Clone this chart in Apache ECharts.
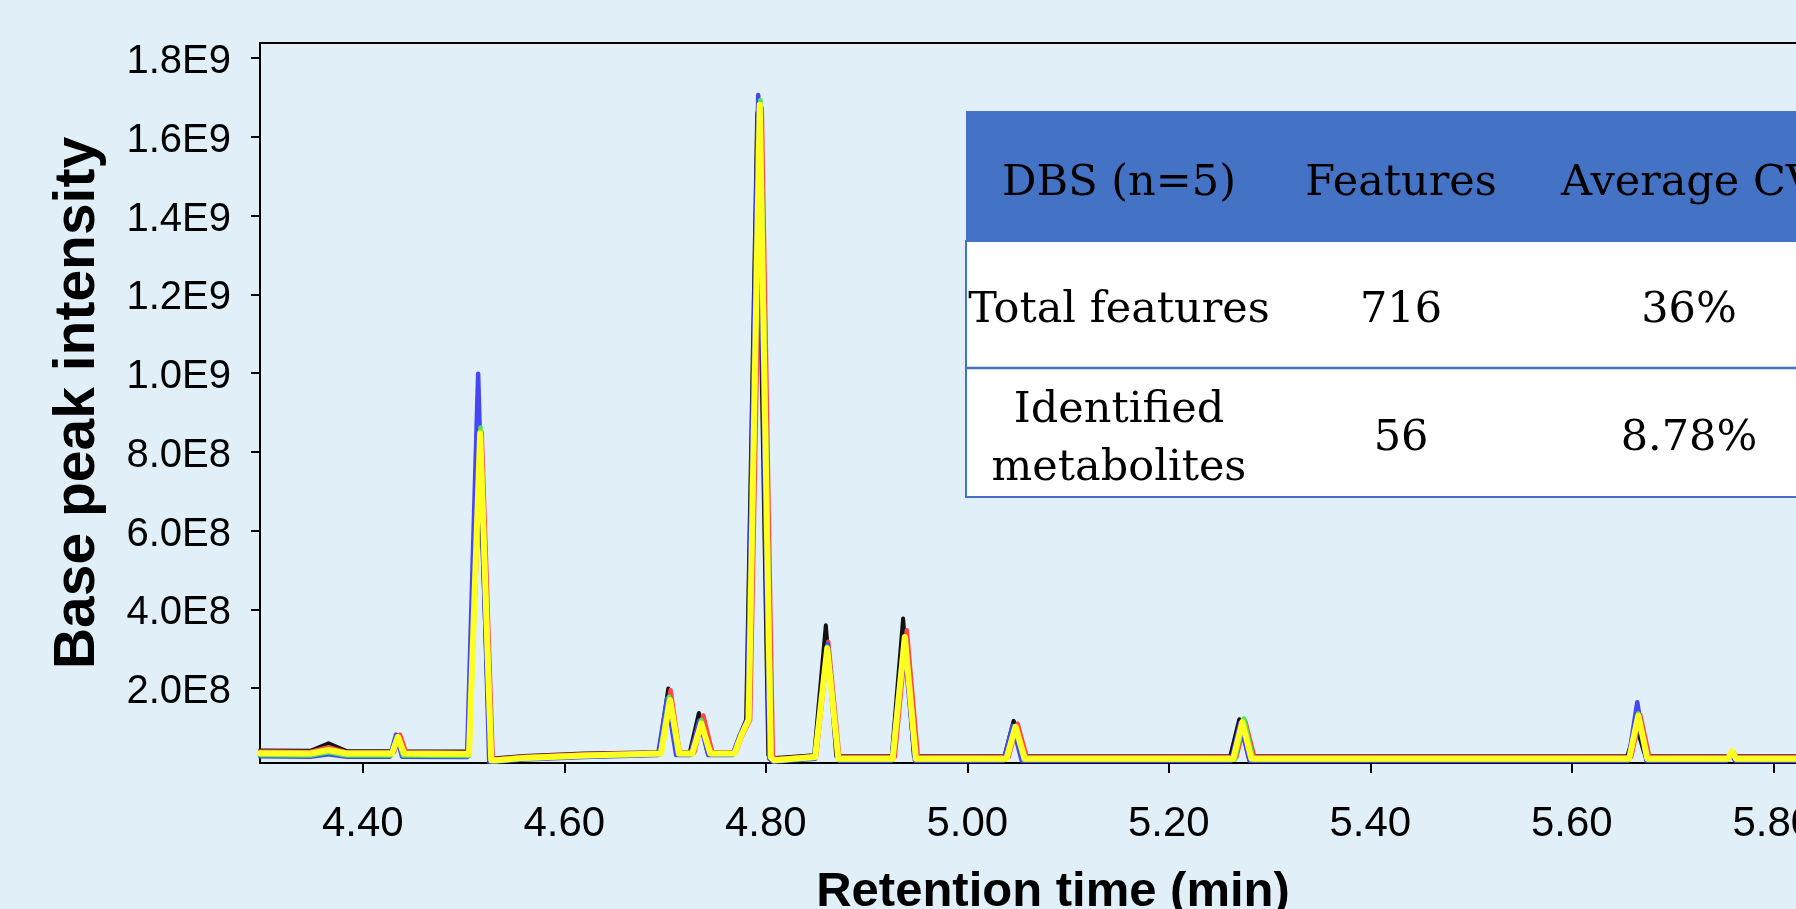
<!DOCTYPE html>
<html>
<head>
<meta charset="utf-8">
<script src="https://cdn.jsdelivr.net/npm/echarts@6/dist/echarts.min.js"></script>
<style>
  html, body { margin: 0; padding: 0; background: #e1f0f8; }
  #chart { width: 1796px; height: 909px; }
</style>
</head>
<body>
<div id="chart"></div>
<script>
// ---- Data (retention time in min, intensity in units of 1E8) ----
const xTickValues = [4.4, 4.6, 4.8, 5.0, 5.2, 5.4, 5.6, 5.8];
const xTickLabels = ['4.40', '4.60', '4.80', '5.00', '5.20', '5.40', '5.60', '5.80'];
const yTickValues = [2, 4, 6, 8, 10, 12, 14, 16, 18];
const yTickLabels = ['2.0E8', '4.0E8', '6.0E8', '8.0E8', '1.0E9', '1.2E9', '1.4E9', '1.6E9', '1.8E9'];

const seriesNames = ['Sample 1', 'Sample 2', 'Sample 3', 'Sample 4', 'Sample 5'];

const traceBlack = [[4.298,0.42],[4.348,0.41],[4.366,0.60],[4.384,0.40],[4.429,0.40],[4.435,0.76],[4.441,0.40],[4.504,0.39],[4.515,8.40],[4.526,0.22],[4.532,0.22],[4.56,0.28],[4.62,0.34],[4.694,0.375],[4.7032,1.99],[4.712,0.375],[4.7246,0.375],[4.7336,1.37],[4.742,0.375],[4.768,0.375],[4.775,0.85],[4.7805,1.2],[4.7915,16.6],[4.8025,0.30],[4.806,0.22],[4.848,0.30],[4.8596,3.60],[4.870,0.27],[4.925,0.27],[4.9363,3.77],[4.947,0.27],[5.037,0.27],[5.046,1.17],[5.055,0.27],[5.261,0.27],[5.270,1.21],[5.279,0.27],[5.655,0.27],[5.664,1.02],[5.673,0.27],[5.755,0.27],[5.759,0.36],[5.763,0.27],[5.83,0.27]];

const traceRed = [[4.298,0.39],[4.348,0.38],[4.366,0.50],[4.384,0.37],[4.431,0.37],[4.437,0.82],[4.443,0.37],[4.505,0.36],[4.518,8.50],[4.529,0.20],[4.534,0.20],[4.56,0.26],[4.62,0.32],[4.696,0.36],[4.7055,1.95],[4.7145,0.36],[4.729,0.36],[4.738,1.31],[4.747,0.36],[4.770,0.36],[4.777,0.82],[4.7845,1.2],[4.796,16.73],[4.807,0.28],[4.810,0.20],[4.850,0.28],[4.862,3.18],[4.873,0.25],[4.928,0.25],[4.940,3.47],[4.951,0.25],[5.041,0.25],[5.050,1.10],[5.059,0.25],[5.267,0.25],[5.276,1.15],[5.285,0.25],[5.659,0.25],[5.668,1.32],[5.677,0.25],[5.756,0.25],[5.760,0.38],[5.764,0.25],[5.83,0.25]];

const traceBlue = [[4.298,0.27],[4.348,0.26],[4.366,0.32],[4.384,0.26],[4.427,0.26],[4.433,0.82],[4.439,0.26],[4.5035,0.25],[4.5145,9.98],[4.5255,0.13],[4.531,0.13],[4.56,0.19],[4.62,0.25],[4.693,0.30],[4.702,1.74],[4.711,0.30],[4.725,0.30],[4.734,1.18],[4.743,0.30],[4.767,0.30],[4.774,0.80],[4.7815,1.2],[4.7925,17.06],[4.8035,0.21],[4.807,0.13],[4.849,0.21],[4.8615,3.13],[4.8725,0.16],[4.925,0.16],[4.937,3.20],[4.948,0.16],[5.036,0.16],[5.045,1.05],[5.054,0.16],[5.262,0.16],[5.271,1.12],[5.280,0.16],[5.656,0.16],[5.665,1.64],[5.674,0.16],[5.754,0.16],[5.758,0.34],[5.762,0.16],[5.83,0.16]];

const traceGreen = [[4.298,0.30],[4.348,0.29],[4.366,0.37],[4.384,0.29],[4.428,0.29],[4.434,0.78],[4.440,0.29],[4.5055,0.28],[4.5168,8.62],[4.528,0.15],[4.533,0.15],[4.56,0.21],[4.62,0.27],[4.695,0.32],[4.704,1.78],[4.713,0.32],[4.727,0.32],[4.736,1.19],[4.745,0.32],[4.769,0.32],[4.776,0.82],[4.7832,1.2],[4.7947,16.93],[4.8057,0.23],[4.809,0.15],[4.849,0.23],[4.861,3.05],[4.872,0.19],[4.926,0.19],[4.938,3.30],[4.949,0.19],[5.038,0.19],[5.047,1.03],[5.056,0.19],[5.2657,0.19],[5.2747,1.23],[5.2837,0.19],[5.657,0.19],[5.666,1.36],[5.675,0.19],[5.755,0.19],[5.759,0.35],[5.763,0.19],[5.83,0.19]];

const traceYellow = [[4.298,0.35],[4.348,0.34],[4.366,0.43],[4.384,0.34],[4.429,0.34],[4.435,0.76],[4.441,0.34],[4.5055,0.33],[4.5165,8.47],[4.5275,0.17],[4.533,0.17],[4.56,0.23],[4.62,0.29],[4.696,0.34],[4.705,1.70],[4.714,0.34],[4.727,0.34],[4.736,1.10],[4.745,0.34],[4.769,0.34],[4.776,0.82],[4.783,1.2],[4.794,16.81],[4.805,0.25],[4.808,0.17],[4.849,0.25],[4.861,3.01],[4.872,0.21],[4.926,0.21],[4.938,3.30],[4.949,0.21],[5.039,0.21],[5.048,1.02],[5.057,0.21],[5.264,0.21],[5.273,1.14],[5.282,0.21],[5.657,0.21],[5.666,1.30],[5.675,0.21],[5.755,0.21],[5.759,0.40],[5.763,0.21],[5.83,0.21]];

// ---- Table overlay text ----
const tableHeader = ['DBS (n=5)', 'Features', 'Average CV'];
const tableRow1 = ['Total features', '716', '36%'];
const tableRow2 = [['Identified', 'metabolites'], '56', '8.78%'];

// ---- Chart ----
const chart = echarts.init(document.getElementById('chart'), null, { renderer: 'canvas' });

const traces = [
  { name: seriesNames[0], data: traceBlack,  color: '#111111', width: 4 },
  { name: seriesNames[1], data: traceRed,    color: '#ff4a4a', width: 4.5 },
  { name: seriesNames[2], data: traceBlue,   color: '#4646f5', width: 4.5 },
  { name: seriesNames[3], data: traceGreen,  color: '#4ee84e', width: 4.5 },
  { name: seriesNames[4], data: traceYellow, color: '#ffff22', width: 6 }
];

const labelFont = '"Liberation Sans", Arial, Helvetica, sans-serif';
const tableFont = '"DejaVu Serif", serif';

function findLabel(values, labels, v) {
  for (let i = 0; i < values.length; i++) {
    if (Math.abs(values[i] - v) < 1e-6) return labels[i];
  }
  return '';
}

const tableLeft = 966, tableTop = 111, headerBottom = 241, rowSep = 368, tableBottom = 497;
const colCenters = [1119, 1401, 1689];

const tableGraphics = [
  { type: 'rect', shape: { x: tableLeft, y: tableTop, width: 900, height: headerBottom - tableTop },
    style: { fill: '#4472c4' }, z: 100 },
  { type: 'rect', shape: { x: tableLeft, y: headerBottom, width: 900, height: tableBottom - headerBottom },
    style: { fill: '#ffffff', stroke: '#4472c4', lineWidth: 2 }, z: 100 },
  { type: 'line', shape: { x1: tableLeft, y1: rowSep, x2: 1796, y2: rowSep },
    style: { stroke: '#4472c4', lineWidth: 2.5 }, z: 101 }
];
function addText(txt, x, y) {
  tableGraphics.push({
    type: 'text', x: x, y: y, z: 102,
    style: { text: txt, fill: '#000', font: '43px ' + tableFont, align: 'center', verticalAlign: 'middle' }
  });
}
addText(tableHeader[0], colCenters[0], 184);
addText(tableHeader[1], colCenters[1], 184);
addText(tableHeader[2], colCenters[2], 184);
addText(tableRow1[0], colCenters[0], 311);
addText(tableRow1[1], colCenters[1], 311);
addText(tableRow1[2], colCenters[2], 311);
addText(tableRow2[0][0], colCenters[0], 411);
addText(tableRow2[0][1], colCenters[0], 469);
addText(tableRow2[1], colCenters[1], 439);
addText(tableRow2[2], colCenters[2], 439);

const option = {
  backgroundColor: '#e1f0f8',
  animation: false,
  grid: {
    left: 260, right: -4, top: 43, bottom: 146,
    outerBoundsMode: 'none',
    containLabel: false,
    show: true, borderColor: '#000', borderWidth: 2, backgroundColor: 'transparent'
  },
  xAxis: {
    type: 'value',
    min: 4.298, max: 5.8265,
    name: 'Retention time (min)',
    nameLocation: 'middle',
    nameGap: 105,
    nameTextStyle: { fontFamily: labelFont, fontWeight: 'bold', fontSize: 49, color: '#000', padding: [0, 0, 0, 46] },
    axisLine: { show: true, lineStyle: { color: '#000', width: 2 } },
    axisTick: { show: true, length: 10, lineStyle: { color: '#000', width: 2 }, customValues: xTickValues },
    axisLabel: {
      show: true, margin: 40, fontFamily: labelFont, fontSize: 42, color: '#000',
      customValues: xTickValues, hideOverlap: false,
      formatter: v => findLabel(xTickValues, xTickLabels, v)
    },
    splitLine: { show: false }
  },
  yAxis: {
    type: 'value',
    min: 0.1, max: 18.38,
    name: 'Base peak intensity',
    nameLocation: 'middle',
    nameGap: 153,
    nameTextStyle: { fontFamily: labelFont, fontWeight: 'bold', fontSize: 57, color: '#000' },
    axisLine: { show: true, lineStyle: { color: '#000', width: 2 } },
    axisTick: { show: true, length: 9, lineStyle: { color: '#000', width: 2 }, customValues: yTickValues },
    axisLabel: {
      show: true, margin: 29, color: '#000',
      customValues: yTickValues,
      formatter: v => '{t|' + findLabel(yTickValues, yTickLabels, v) + '}',
      rich: { t: { fontFamily: labelFont, fontSize: 40, color: '#000', padding: [8, 0, 0, 0] } }
    },
    splitLine: { show: false }
  },
  series: traces.map(t => ({
    type: 'line',
    name: t.name,
    data: t.data,
    showSymbol: false,
    symbol: 'none',
    smooth: false,
    clip: true,
    lineStyle: { color: t.color, width: t.width, join: 'round', cap: 'round' },
    itemStyle: { color: t.color },
    emphasis: { disabled: true }
  })),
  graphic: tableGraphics
};

chart.setOption(option);
</script>
</body>
</html>
